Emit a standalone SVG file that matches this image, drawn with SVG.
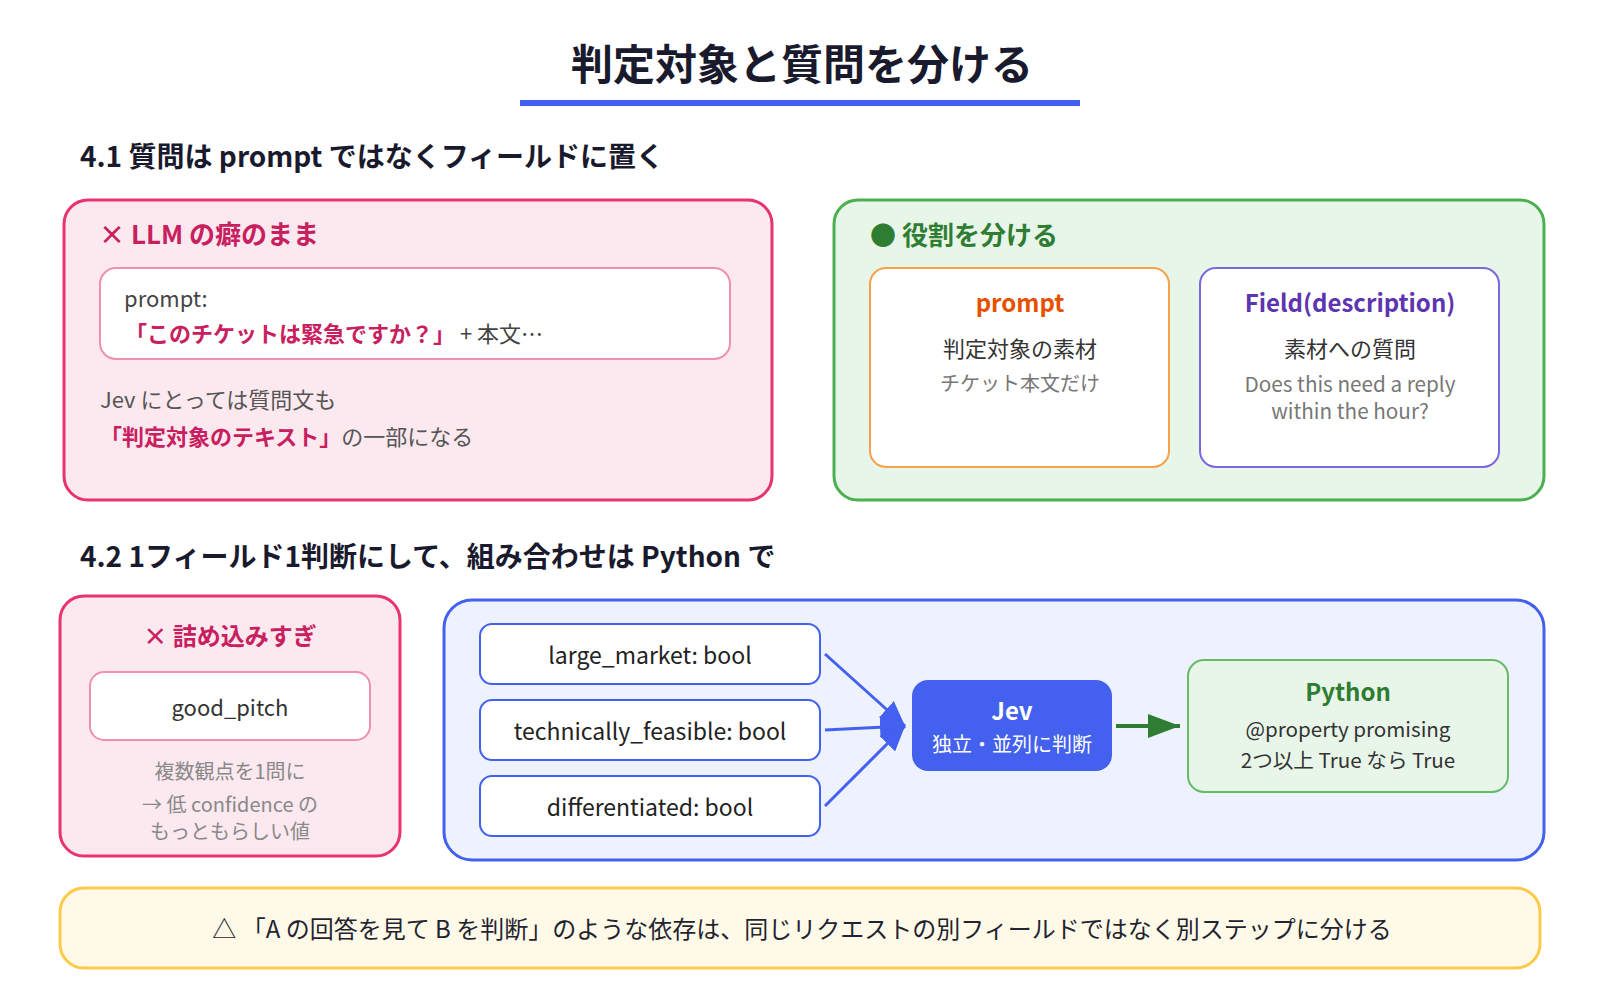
<svg xmlns="http://www.w3.org/2000/svg" width="1600" height="1000" viewBox="0 0 1600 1000">
<defs>
<style>
text{font-family:"Noto Sans CJK JP","Noto Sans",sans-serif;}
.b{font-weight:700;}
.title{font-size:42px;fill:#1a1a2e;font-weight:700;}
.h{font-size:28px;fill:#1a1a2e;font-weight:700;}
.pinkbox{fill:#fce8ef;stroke:#e8336f;stroke-width:3;}
.pinkinner{fill:#ffffff;stroke:#f090b0;stroke-width:2;}
.crim{fill:#c8205e;}
.g2{fill:#444;}
.g5{fill:#555;}
.g7{fill:#777;}
.g8{fill:#888;}
.field{fill:#ffffff;stroke:#4361ee;stroke-width:2;}
.ft{font-size:23px;fill:#222;text-anchor:middle;}
.edge{stroke:#4361ee;stroke-width:3;fill:none;}
</style>
<marker id="ab" viewBox="0 0 25 22" refX="25" refY="11" markerWidth="25" markerHeight="22" markerUnits="userSpaceOnUse" orient="auto">
<path d="M0,0 L25,11 L0,22 z" fill="#4361ee"/>
</marker>
<marker id="ag" viewBox="0 0 32 24" refX="32" refY="12" markerWidth="32" markerHeight="24" markerUnits="userSpaceOnUse" orient="auto">
<path d="M0,0 L32,12 L0,24 z" fill="#2e7d32"/>
</marker>
</defs>
<rect width="1600" height="1000" fill="#ffffff"/>

<g id="title">
<text x="802" y="80" class="title" text-anchor="middle">判定対象と質問を分ける</text>
<rect x="520" y="100" width="560" height="6" fill="#4361ee"/>
</g>

<g id="section41">
<text x="80" y="167" class="h">4.1 質問は prompt ではなくフィールドに置く</text>
</g>

<g id="bad1">
<rect x="64" y="200" width="708" height="300" rx="24" class="pinkbox"/>
<text x="99" y="244" class="b crim" font-size="26">× LLM の癖のまま</text>
<rect x="100" y="268" width="630" height="91" rx="16" class="pinkinner"/>
<text x="124" y="307" class="g2" font-size="22">prompt:</text>
<text x="125" y="342" font-size="22"><tspan class="b crim">「このチケットは緊急ですか？」</tspan><tspan class="g2"> + 本文…</tspan></text>
<text x="100" y="408" class="g5" font-size="22">Jev にとっては質問文も</text>
<text x="100" y="445" font-size="22"><tspan class="b crim">「判定対象のテキスト」</tspan><tspan class="g5">の一部になる</tspan></text>
</g>

<g id="good1">
<rect x="834" y="200" width="710" height="300" rx="24" fill="#e8f5e9" stroke="#4caf50" stroke-width="3"/>
<text x="870" y="245" class="b" font-size="26" fill="#2e7d32">● 役割を分ける</text>
</g>

<g id="prompt-node">
<rect x="870" y="268" width="299" height="199" rx="16" fill="#ffffff" stroke="#f6a24a" stroke-width="2"/>
<text x="1020" y="312" class="b" font-size="24" fill="#e65100" text-anchor="middle">prompt</text>
<text x="1020" y="357" font-size="22" fill="#333" text-anchor="middle">判定対象の素材</text>
<text x="1020" y="391" font-size="20" class="g7" text-anchor="middle">チケット本文だけ</text>
</g>

<g id="field-node">
<rect x="1200" y="268" width="299" height="199" rx="16" fill="#ffffff" stroke="#7b68de" stroke-width="2"/>
<text x="1350" y="312" class="b" font-size="24" fill="#5e35b1" text-anchor="middle">Field(description)</text>
<text x="1350" y="357" font-size="22" fill="#333" text-anchor="middle">素材への質問</text>
<text x="1350" y="392" font-size="20.7" class="g7" text-anchor="middle">Does this need a reply</text>
<text x="1350" y="419" font-size="20.7" class="g7" text-anchor="middle">within the hour?</text>
</g>

<g id="section42">
<text x="80" y="567" class="h" font-size="28.2">4.2 1フィールド1判断にして、組み合わせは Python で</text>
</g>

<g id="bad2">
<rect x="60" y="596" width="340" height="260" rx="24" class="pinkbox"/>
<text x="230" y="645" class="b crim" font-size="24" text-anchor="middle">× 詰め込みすぎ</text>
<rect x="90" y="672" width="280" height="68" rx="14" class="pinkinner"/>
<text x="230" y="716" font-size="22" fill="#333" text-anchor="middle">good_pitch</text>
<text x="230" y="779" font-size="20" class="g8" text-anchor="middle">複数観点を1問に</text>
<text x="230" y="812" font-size="20" class="g8" text-anchor="middle">→ 低 confidence の</text>
<text x="230" y="839" font-size="20" class="g8" text-anchor="middle">もっともらしい値</text>
</g>

<g id="good2">
<rect x="444" y="600" width="1100" height="260" rx="28" fill="#edf2fe" stroke="#4361ee" stroke-width="3"/>
</g>

<g id="f-large-market">
<rect x="480" y="624" width="340" height="60" rx="12" class="field"/>
<text x="650" y="664" class="ft">large_market: bool</text>
</g>
<g id="f-technically-feasible">
<rect x="480" y="700" width="340" height="60" rx="12" class="field"/>
<text x="650" y="740" class="ft">technically_feasible: bool</text>
</g>
<g id="f-differentiated">
<rect x="480" y="776" width="340" height="60" rx="12" class="field"/>
<text x="650" y="816" class="ft">differentiated: bool</text>
</g>

<g id="jev">
<rect x="912" y="680" width="200" height="91" rx="16" fill="#4361ee"/>
<text x="1012" y="720" class="b" font-size="24" fill="#ffffff" text-anchor="middle">Jev</text>
<text x="1012" y="752" font-size="20" fill="#ffffff" text-anchor="middle">独立・並列に判断</text>
</g>

<g id="python">
<rect x="1188" y="660" width="320" height="132" rx="16" fill="#e8f5e9" stroke="#66bb6a" stroke-width="2"/>
<text x="1348" y="701" class="b" font-size="24" fill="#2e7d32" text-anchor="middle">Python</text>
<text x="1348" y="737" font-size="20.6" fill="#333" text-anchor="middle">@property promising</text>
<text x="1348" y="768" font-size="20.6" fill="#333" text-anchor="middle">2つ以上 True なら True</text>
</g>

<g id="connectors">
<line x1="825" y1="654" x2="905" y2="726" class="edge" marker-end="url(#ab)"/>
<line x1="825" y1="730" x2="905" y2="726" class="edge" marker-end="url(#ab)"/>
<line x1="825" y1="806" x2="905" y2="726" class="edge" marker-end="url(#ab)"/>
<line x1="1116" y1="726" x2="1180" y2="726" stroke="#2e7d32" stroke-width="4" marker-end="url(#ag)"/>
</g>

<g id="note">
<rect x="60" y="888" width="1480" height="80" rx="24" fill="#fffae8" stroke="#ffc94a" stroke-width="3"/>
<text x="802" y="938" font-size="24" fill="#1f2430" text-anchor="middle">△ 「A の回答を見て B を判断」のような依存は、同じリクエストの別フィールドではなく別ステップに分ける</text>
</g>
</svg>
